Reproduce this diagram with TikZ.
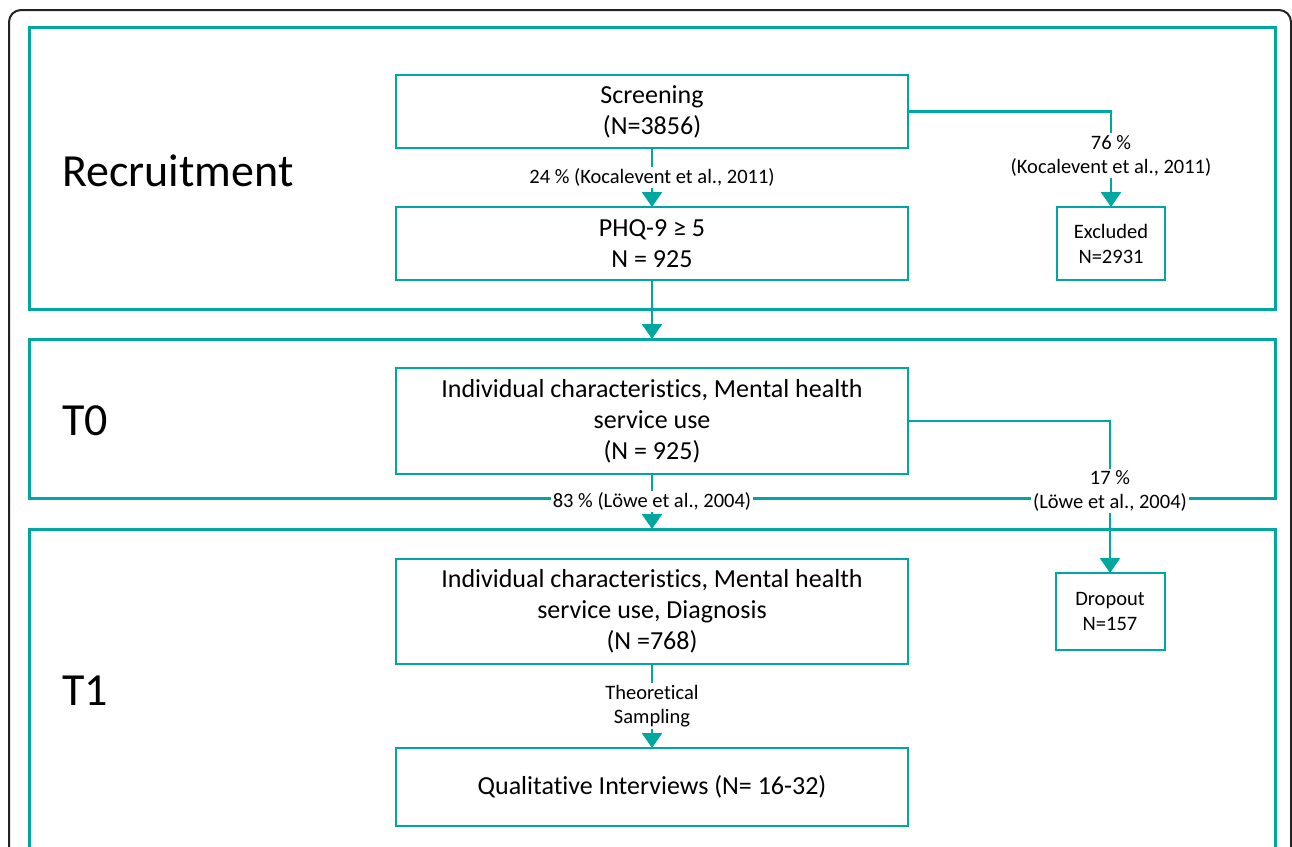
\documentclass[tikz,border=0pt]{standalone}
\usepackage{fontspec}
\setmainfont{Carlito}[Ligatures={NoCommon}]
\usetikzlibrary{arrows.meta}
\definecolor{teal1}{RGB}{0,166,160}
\definecolor{outline}{RGB}{34,34,34}
\begin{document}
\begin{tikzpicture}[x=1pt,y=-1pt,
  frame/.style={draw=teal1, line width=3pt, outer sep=0pt, inner sep=0pt, minimum width=1246pt},
  box/.style={draw=teal1, line width=2pt, outer sep=0pt, inner sep=0pt, align=center,
    font=\fontsize{26}{31}\selectfont},
  sidebox/.style={draw=teal1, line width=2pt, outer sep=0pt, inner sep=0pt, align=center,
    font=\fontsize{20.5}{25}\selectfont},
  lbl/.style={fill=white, align=center, inner sep=2pt, font=\fontsize{20.5}{24}\selectfont},
  conn/.style={draw=teal1, line width=2.5pt, -{Triangle[width=20pt,length=15pt]}},
  big/.style={anchor=west, inner sep=0pt, font=\fontsize{46}{55}\selectfont}]
\useasboundingbox (0,0) rectangle (1292,846);
\clip (0,0) rectangle (1292,846);
\draw[line width=2pt, outline, rounded corners=12pt] (9,10) rectangle (1291,900);
% phase frames
\node[frame, minimum height=282pt] (fr) at (652,168) {};
\node[frame, minimum height=159pt] (f0) at (652,418.5) {};
\node[frame, minimum height=400pt] (f1) at (652,729) {};
% phase labels
\node[big] (lr) at (62,171) {Recruitment};
\node[big] (l0) at (62,421) {T0};
\node[big] (l1) at (62,691) {T1};
% boxes
\node[box, minimum width=512pt, minimum height=73pt] (scr) at (652,111.5) {Screening\\(N=3856)};
\node[box, minimum width=512pt, minimum height=73pt] (phq) at (652,243.5) {PHQ-9 ≥ 5\\N = 925};
\node[sidebox, minimum width=108pt, minimum height=73pt] (excl) at (1111,243.5) {Excluded\\N=2931};
\node[box, minimum width=512pt, minimum height=106pt] (t0) at (652,421) {Individual characteristics, Mental health\\service use\\(N = 925)};
\node[sidebox, minimum width=109pt, minimum height=77pt] (drop) at (1110,611.5) {Dropout\\N=157};
\node[box, minimum width=512pt, minimum height=105pt] (t1a) at (652,611.5) {Individual characteristics, Mental health\\service use, Diagnosis\\(N =768)};
\node[box, minimum width=512pt, minimum height=78pt] (qual) at (652,787) {Qualitative Interviews (N= 16-32)};
% connectors
\draw[conn] (scr.south) -- node[lbl] {24 \% (Kocalevent et al., 2011)} (phq.north);
\draw[conn] (scr.east) -| node[lbl, pos=0.73] {76 \%\\(Kocalevent et al., 2011)} (excl.north);
\draw[conn] (phq.south) -- (f0.north);
\draw[conn] (t0.south) -- node[lbl] {83 \% (Löwe et al., 2004)} (f1.north);
\draw[conn] (t0.east) -| node[lbl, pos=0.73] {17 \%\\(Löwe et al., 2004)} (drop.north);
\draw[conn] (t1a.south) -- node[lbl] {Theoretical\\Sampling} (qual.north);
\end{tikzpicture}
\end{document}
